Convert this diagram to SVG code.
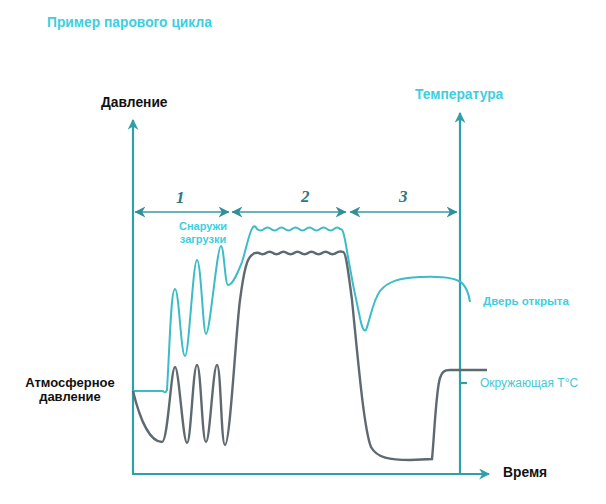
<svg xmlns="http://www.w3.org/2000/svg" width="606" height="504" viewBox="0 0 606 504">
<defs>
<style>
.t{font-family:"Liberation Sans",Arial,sans-serif;font-weight:bold}
.cy{fill:#3ccfdf}
.bk{fill:#111}
.num{font-family:"Liberation Serif","Times New Roman",serif;font-style:italic;font-weight:bold;font-size:17px;fill:#2e7782}
.axis{fill:none;stroke:#2f9fa9;stroke-width:2.2}
.dim{fill:none;stroke:#3a98a3;stroke-width:1.4}
.temp{fill:none;stroke:#3bbcc6;stroke-width:2}
.pres{fill:none;stroke:#5e6a70;stroke-width:2.4}
</style>
<marker id="ah" viewBox="0 0 10 10" refX="9" refY="5" markerWidth="11" markerHeight="11" markerUnits="userSpaceOnUse" orient="auto-start-reverse">
<path d="M0,0 L10,5 L0,10 L3,5 z" fill="#2f9fa9"/>
</marker>
<marker id="dh" viewBox="0 0 10 10" refX="9.5" refY="5" markerWidth="11" markerHeight="11" markerUnits="userSpaceOnUse" orient="auto-start-reverse">
<path d="M0,0 L10,5 L0,10 L3,5 z" fill="#2f8f9a"/>
</marker>
</defs>
<rect width="606" height="504" fill="#fff"/>

<g id="title"><text class="t cy" x="47" y="27" font-size="13.8">Пример парового цикла</text></g>

<g id="axes">
<path class="axis" d="M133,474 V120" marker-end="url(#ah)"/>
<path class="axis" d="M132,474 H489" marker-end="url(#ah)"/>
<path class="axis" d="M460,474 V113" marker-end="url(#ah)"/>
<path class="axis" d="M460,383 H467" stroke-width="1.6"/>
</g>

<g id="labels">
<text class="t bk" x="101" y="107" font-size="13.8">Давление</text>
<text class="t cy" x="415" y="99" font-size="13.8">Температура</text>
<text class="t bk" x="503" y="477" font-size="13.8">Время</text>
<text class="t bk" x="70" y="387" font-size="13" text-anchor="middle">Атмосферное</text>
<text class="t bk" x="70" y="401" font-size="13" text-anchor="middle">давление</text>
<text class="t cy" x="203" y="230" font-size="11" text-anchor="middle">Снаружи</text>
<text class="t cy" x="203" y="243" font-size="11" text-anchor="middle">загрузки</text>
<text class="t cy" x="483" y="305" font-size="11.5">Дверь открыта</text>
<text x="480" y="387" font-size="12" style="font-family:'Liberation Sans',Arial,sans-serif;fill:#46c8d6">Окружающая T°C</text>
</g>

<g id="phases">
<path class="dim" d="M135,212 H229" marker-start="url(#dh)" marker-end="url(#dh)"/>
<path class="dim" d="M232,212 H346" marker-start="url(#dh)" marker-end="url(#dh)"/>
<path class="dim" d="M350,212 H457" marker-start="url(#dh)" marker-end="url(#dh)"/>
<text class="num" x="176" y="203">1</text>
<text class="num" x="301" y="202">2</text>
<text class="num" x="399" y="202">3</text>
</g>

<g id="connectors">
<path id="temperature" class="temp" d="M133,391 L163,391 Q165,394 167,390 C170,340 171,289 175,289 C179,289 181,356 185,356 C189,356 193,260 197,260 C201,260 203,334 206,334 C210,334 217,246 221,246 C224,246 225,285 228,285 C233,285 238,272 242,262 C246,250 249,232 253,227 Q255,225 257,229 q3.5,3 7,0 t7,0 t7,0 t7,0 t7,0 t7,0 t7,0 t7,0 t7,0 t7,0 t7,0 t6,0 C343,228 344,235 346,245 C350,270 356,300 360,318 C362,328 364,332 366,330 C370,320 373,300 380,291 C388,281 400,278 420,277 C440,276 455,277 462,283 C467,288 469,295 470,302"/>
<path id="pressure" class="pres" d="M133,391 C140,420 150,442 162,442 C168,442 171,367 175,367 C179,367 183,443 187,443 C191,443 193,365 197,365 C201,365 202,442 206,442 C210,442 213,365 217,365 C221,365 221,445 225,445 C230,445 236,330 240,300 C244,270 247,258 252,255 Q255,252 259,253 q3.5,2.5 7,0 t7,0 t7,0 t7,0 t7,0 t7,0 t7,0 t7,0 t7,0 t7,0 t7,0 t7,-1 C346,252 348,270 352,300 C358,360 364,430 371,447 C377,458 390,460 410,460 L432,459 C434,440 436,390 440,378 C442,372 444,370 450,370 L487,370"/>
</g>
</svg>
